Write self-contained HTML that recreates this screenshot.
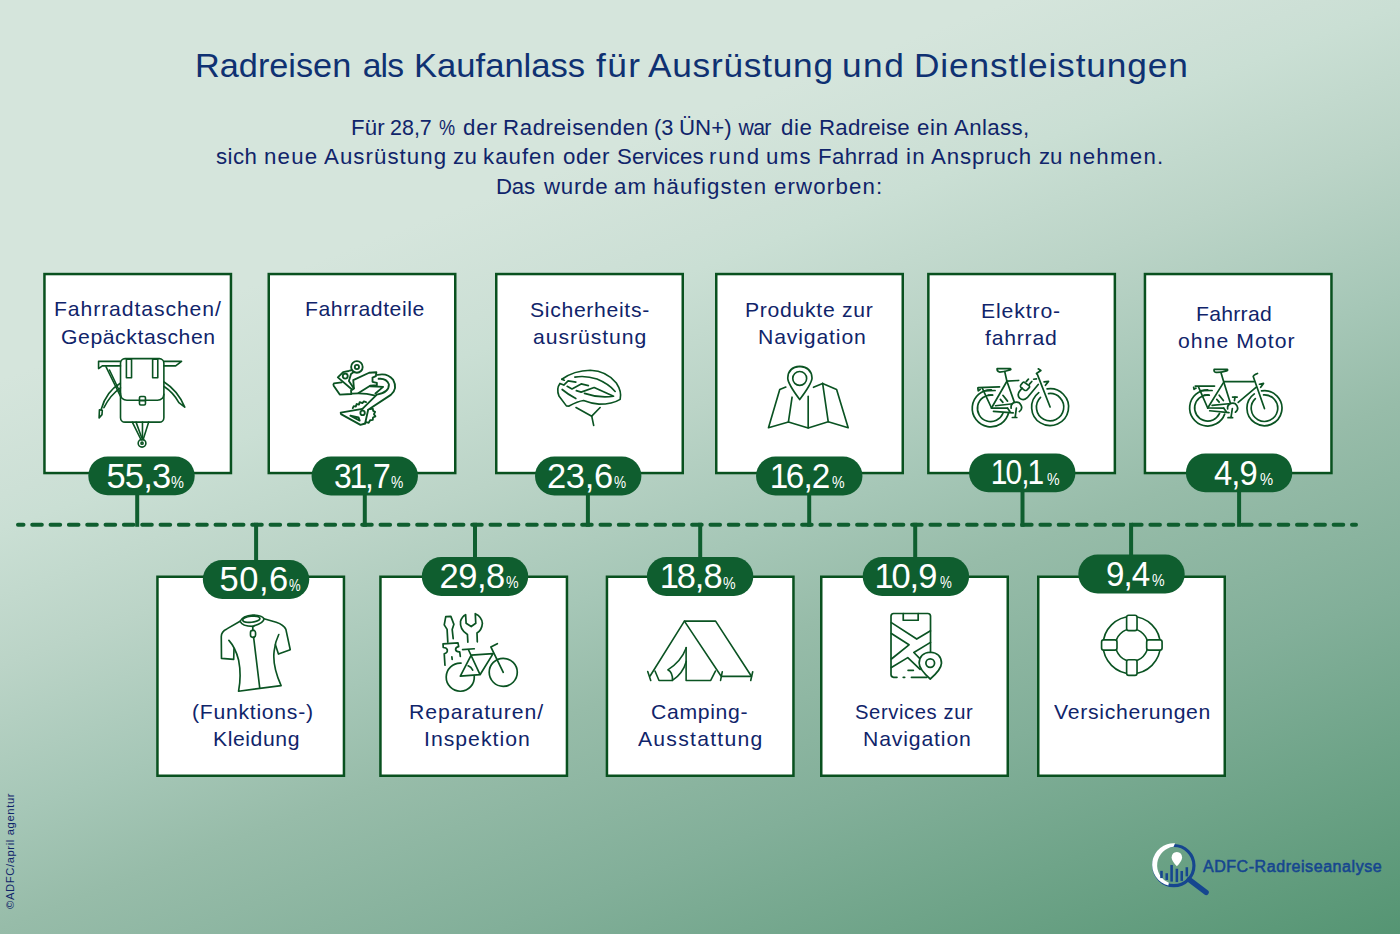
<!DOCTYPE html>
<html lang="de">
<head>
<meta charset="utf-8">
<title>Radreisen als Kaufanlass für Ausrüstung und Dienstleistungen</title>
<style>
html,body{margin:0;padding:0;}
html,body{width:1400px;height:934px;overflow:hidden;background:#d5e5dc;}
#page{position:relative;width:1400px;height:934px;overflow:hidden;font-family:"Liberation Sans",sans-serif;
background:linear-gradient(159.47deg,rgb(213,229,220) 0%,rgb(213,229,220) 26%,rgb(205,224,214) 34%,rgb(202,223,212) 36.3%,rgb(187,212,199) 45.7%,rgb(166,199,183) 56%,rgb(151,188,169) 63.6%,rgb(130,175,153) 76.5%,rgb(85,149,115) 100%);}
.t{position:absolute;white-space:nowrap;line-height:1;transform-origin:left top;}
.box{position:absolute;width:189px;height:201.5px;box-sizing:border-box;border:2.5px solid #09511f;background:#fff;}
.n{font-size:34.5px;color:#fff;}
.one{margin:0 -1.4px;}
.pill{position:absolute;width:106.4px;height:38.9px;border-radius:19.45px;background:#0f5e2f;}
svg{position:absolute;left:0;top:0;}
.vt{position:absolute;white-space:nowrap;line-height:1;transform-origin:left top;transform:rotate(-90deg);color:#10246a;}
</style>
</head>
<body>
<div id="page">
<svg width="1400" height="934" viewBox="0 0 1400 934">
<line x1="18" y1="524.8" x2="1356" y2="524.8" stroke="#0f5e2f" stroke-width="4" stroke-linecap="round" stroke-dasharray="9.6 8.73" stroke-dashoffset="4.1"/>
<line x1="137.2" y1="494.3" x2="137.2" y2="526.8" stroke="#0f5e2f" stroke-width="4"/>
<line x1="364.8" y1="494.4" x2="364.8" y2="526.8" stroke="#0f5e2f" stroke-width="4"/>
<line x1="587.9" y1="494.4" x2="587.9" y2="526.8" stroke="#0f5e2f" stroke-width="4"/>
<line x1="809.2" y1="494.4" x2="809.2" y2="526.8" stroke="#0f5e2f" stroke-width="4"/>
<line x1="1022.5" y1="491.3" x2="1022.5" y2="526.8" stroke="#0f5e2f" stroke-width="4"/>
<line x1="1239.1" y1="491.3" x2="1239.1" y2="526.8" stroke="#0f5e2f" stroke-width="4"/>
<line x1="256.1" y1="522.8" x2="256.1" y2="561.0" stroke="#0f5e2f" stroke-width="4"/>
<line x1="475" y1="522.8" x2="475" y2="558.0" stroke="#0f5e2f" stroke-width="4"/>
<line x1="700.2" y1="522.8" x2="700.2" y2="558.0" stroke="#0f5e2f" stroke-width="4"/>
<line x1="915.2" y1="522.8" x2="915.2" y2="558.0" stroke="#0f5e2f" stroke-width="4"/>
<line x1="1131.1" y1="522.8" x2="1131.1" y2="555.5" stroke="#0f5e2f" stroke-width="4"/>
<rect x="44.45" y="274.05" width="186.50" height="199.00" fill="#fff" stroke="#09511f" stroke-width="2.5"/>
<rect x="268.75" y="274.05" width="186.50" height="199.00" fill="#fff" stroke="#09511f" stroke-width="2.5"/>
<rect x="496.25" y="274.05" width="186.50" height="199.00" fill="#fff" stroke="#09511f" stroke-width="2.5"/>
<rect x="716.25" y="274.05" width="186.50" height="199.00" fill="#fff" stroke="#09511f" stroke-width="2.5"/>
<rect x="928.35" y="274.05" width="186.50" height="199.00" fill="#fff" stroke="#09511f" stroke-width="2.5"/>
<rect x="1144.95" y="274.05" width="186.50" height="199.00" fill="#fff" stroke="#09511f" stroke-width="2.5"/>
<rect x="157.45" y="576.75" width="186.50" height="199.00" fill="#fff" stroke="#09511f" stroke-width="2.5"/>
<rect x="380.45" y="576.75" width="186.50" height="199.00" fill="#fff" stroke="#09511f" stroke-width="2.5"/>
<rect x="606.95" y="576.75" width="186.50" height="199.00" fill="#fff" stroke="#09511f" stroke-width="2.5"/>
<rect x="821.25" y="576.75" width="186.50" height="199.00" fill="#fff" stroke="#09511f" stroke-width="2.5"/>
<rect x="1038.25" y="576.75" width="186.50" height="199.00" fill="#fff" stroke="#09511f" stroke-width="2.5"/>
<rect x="88.30" y="456.4" width="106.4" height="38.9" rx="19.45" fill="#0f5e2f"/>
<rect x="311.55" y="456.5" width="106.4" height="38.9" rx="19.45" fill="#0f5e2f"/>
<rect x="535.00" y="456.5" width="106.4" height="38.9" rx="19.45" fill="#0f5e2f"/>
<rect x="756.05" y="456.5" width="106.4" height="38.9" rx="19.45" fill="#0f5e2f"/>
<rect x="969.05" y="453.4" width="106.4" height="38.9" rx="19.45" fill="#0f5e2f"/>
<rect x="1185.90" y="453.4" width="106.4" height="38.9" rx="19.45" fill="#0f5e2f"/>
<rect x="202.85" y="560" width="106.4" height="38.9" rx="19.45" fill="#0f5e2f"/>
<rect x="421.80" y="557" width="106.4" height="38.9" rx="19.45" fill="#0f5e2f"/>
<rect x="646.90" y="557" width="106.4" height="38.9" rx="19.45" fill="#0f5e2f"/>
<rect x="862.70" y="557" width="106.4" height="38.9" rx="19.45" fill="#0f5e2f"/>
<rect x="1078.30" y="554.5" width="106.4" height="38.9" rx="19.45" fill="#0f5e2f"/>
</svg>
<svg width="1400" height="934" viewBox="0 0 1400 934" fill="none" stroke="#0a5322" stroke-linecap="round" stroke-linejoin="round">
<g transform="translate(90,352) scale(0.10707)" stroke-width="14.94"><rect x="285" y="62" width="405" height="593" rx="42"/>
<path d="M285 395 Q290 450 345 450 H630 Q685 450 690 395"/>
<rect x="340" y="68" width="48" height="172"/>
<rect x="585" y="68" width="48" height="172"/>
<rect x="462" y="415" width="56" height="80" rx="12"/>
<path d="M462 455 H518"/>
<path d="M285 88 H80 V155 L115 130 H285"/>
<path d="M690 88 H855 L800 130 H690"/>
<path d="M150 138 L290 425"/>
<path d="M182 168 L285 385"/>
<path d="M283 292 Q150 370 105 535"/>
<path d="M285 335 Q190 400 130 520"/>
<path d="M88 540 L115 545 L112 585 L85 615 Z"/>
<path d="M692 280 Q820 360 885 515 L830 472 Q780 380 692 322"/>
<path d="M395 655 L478 822"/>
<path d="M430 655 L483 800"/>
<path d="M490 655 V815"/>
<path d="M548 655 L495 822"/>
<circle cx="486" cy="852" r="36"/>
<circle cx="486" cy="852" r="10"/></g>
<g transform="translate(320,352) scale(0.09636)" stroke-width="19.20"><circle cx="383" cy="155" r="60"/>
<circle cx="383" cy="155" r="22"/>
<circle cx="262" cy="250" r="26"/>
<path d="M330 188 L298 197 L240 208 L185 263 L335 392 L352 378 L300 300 L322 228 L350 207"/>
<path d="M225 315 L145 325 Q135 335 142 350 L205 442 L325 436 L322 400"/>
<path d="M352 378 L345 292 L510 215 L585 210 L580 250 L545 265 L545 310 L590 320 L590 345 L520 350 L400 425"/>
<path d="M335 432 Q450 420 575 452"/>
<path d="M520 355 L655 362 L575 430"/>
<path d="M598 238 Q700 215 760 290 Q810 380 735 445 L500 600"/>
<path d="M608 278 Q690 270 715 335 Q720 420 590 442 L440 590"/>
<path d="M440 590 L215 630 L218 645 L420 756 L468 742 L500 600"/>
<path d="M315 660 L400 678 L412 712 Z"/>
<circle cx="442" cy="632" r="23"/>
<path d="M340 582 L350 562 L372 566 L380 540 L405 545 L412 520 L440 530 L455 512 L478 520"/>
<path d="M520 592 L548 588 L552 612 L572 620 L560 645 L575 668 L550 680 L548 705 L520 708 L505 735 L480 728 L468 742"/></g>
<g transform="translate(545,355) scale(0.09636)" stroke-width="17.12"><path d="M175 252 Q300 160 470 158 Q640 165 740 290 Q800 380 780 460 Q700 510 560 510 Q470 500 400 472 Q340 480 250 530 L222 528 L145 425 Q115 350 155 295 L195 312 L240 268 L320 282"/>
<path d="M175 252 L200 262"/>
<path d="M310 230 Q420 210 540 250 Q660 300 728 378"/>
<path d="M230 325 L280 352 L375 300 L450 318"/>
<path d="M325 370 L375 385 L510 338 L712 428 Q560 450 410 398"/>
<path d="M178 358 Q240 410 320 452"/>
<path d="M322 545 L485 635 L572 545"/>
<path d="M485 635 L505 730"/></g>
<g transform="translate(760,355) scale(0.09636)" stroke-width="17.12"><path d="M412 462 Q290 300 288 240 Q292 125 412 118 Q535 125 540 240 Q535 300 412 462 Z"/>
<circle cx="412" cy="243" r="72"/>
<path d="M268 332 L205 358 L88 755 L295 695 L500 758 L708 692 L915 755 L795 358 L650 295 L555 335"/>
<path d="M295 695 L333 438"/>
<path d="M500 758 V430"/>
<path d="M708 692 L650 295"/></g>
<g transform="translate(965,360) scale(0.08029)" stroke-width="21.17"><path d="M328.0 372.1 A230 230 0 1 0 544.1 653.7"/><path d="M340.1 438.2 A165 165 0 1 0 473.0 663.8"/><path d="M1022.4 360.1 A230 230 0 1 1 918.4 405.8"/><path d="M1040.2 418.2 A170 170 0 1 1 940.8 465.7"/>
<path d="M400 108 H565 Q580 115 560 125 Q480 150 430 150 Q395 140 400 108 Z"/>
<path d="M495 145 L522 265 L330 598"/>
<path d="M522 265 L620 540"/>
<path d="M522 262 L668 255"/>
<path d="M165 345 L430 335"/>
<path d="M215 350 L330 598"/>
<path d="M160 350 L165 385 L190 365"/>
<path d="M240 385 L375 380"/>
<path d="M290 436 L345 436"/>
<path d="M380 570 L600 545"/>
<path d="M332 600 L530 600"/>
<path d="M355 640 L600 658"/>
<path d="M530 600 L560 640"/>
<circle cx="640" cy="590" r="62" fill="#fff" stroke="none"/><path d="M575 601 A65 65 0 1 1 677 643"/>
<path d="M640 598 L625 712"/>
<path d="M590 716 L645 716"/>
<path d="M472 440 L530 512"/>
<path d="M440 490 L472 528"/>
<path d="M912 305 L775 470 Q725 515 680 475 Q640 430 690 375 L712 350"/>
<path d="M735 275 L800 320 Q810 335 800 345 L770 375 Q755 385 740 375 L695 340 Q685 325 695 312 L720 280 Q728 272 735 275 Z"/>
<path d="M762 270 L790 238"/>
<path d="M803 300 L832 267"/>
<path d="M912 110 L945 130 L890 168 L905 188 L1060 585"/>
<path d="M855 240 L890 236"/>
<path d="M985 272 L1040 266 L1002 315"/></g>
<g transform="translate(1180,360) scale(0.08029)" stroke-width="21.17"><path d="M345.0 372.0 A225 225 0 1 0 556.4 674.0"/><path d="M350.7 434.1 A163 163 0 1 0 492.7 665.9"/><path d="M1015.6 385.1 A218 218 0 1 1 925.4 422.5"/><path d="M1040.5 435.4 A165 165 0 1 1 938.4 480.3"/>
<path d="M425 118 H590 Q600 128 580 135 Q500 158 450 155 Q418 148 425 118 Z"/>
<path d="M510 155 L545 275 L345 598"/>
<path d="M545 275 L630 545"/>
<path d="M548 270 L920 270" stroke-width="22"/>
<path d="M190 325 L430 325"/>
<path d="M230 335 L345 598"/>
<path d="M170 340 L175 365 L200 350"/>
<path d="M265 382 L400 380"/>
<path d="M305 438 L365 438"/>
<path d="M400 565 L605 545"/>
<path d="M348 598 L545 600"/>
<path d="M370 632 L610 655"/>
<path d="M545 600 L575 640"/>
<circle cx="655" cy="600" r="59" fill="#fff" stroke="none"/><path d="M593 608 A62 62 0 1 1 690 650"/>
<path d="M652 605 L635 715"/>
<path d="M598 718 L655 718"/>
<path d="M488 438 L540 505"/>
<path d="M458 490 L488 525"/>
<path d="M725 528 L950 338"/>
<path d="M655 462 H712"/>
<path d="M685 462 L678 505"/>
<path d="M965 168 Q915 185 912 205 L1052 605"/>
<path d="M990 302 L1040 292 L1005 340"/></g>
<g transform="translate(205,605) scale(0.10173)" stroke-width="16.22"><path d="M345 160 L215 235 Q160 260 160 310 L162 525 L282 535 L285 430"/>
<path d="M235 348 Q300 420 330 540 Q360 690 330 848 L748 792 Q660 600 680 450 Q690 360 725 290"/>
<path d="M580 135 L700 170 Q775 195 795 240 L838 440 L722 482 L692 390"/>
<path d="M345 160 Q370 105 470 98 Q560 100 580 135 Q580 175 470 210 Q365 210 345 160 Z"/>
<ellipse cx="455" cy="140" rx="85" ry="30" transform="rotate(-6 455 140)"/>
<path d="M470 210 V250"/>
<rect x="447" y="250" width="50" height="68" rx="22"/>
<path d="M478 318 L538 815"/></g>
<g transform="translate(430,605) scale(0.10173)" stroke-width="16.71"><path d="M175 365 L168 240 L140 195 L155 115 L205 112 L235 190 L218 240 L228 330"/>
<path d="M147 592 L140 480 Q175 470 170 440 Q165 420 130 418 L128 382 L275 372 L282 410 Q250 415 252 440 Q258 462 292 460 L298 505"/>
<path d="M215 510 L218 535"/>
<path d="M372 365 L368 290 Q290 240 300 160 Q315 110 350 95 L355 180 L405 212 L450 180 L445 85 Q510 115 515 180 Q510 245 462 275 L465 362"/>
<path d="M305 572 A138 138 0 1 0 435 700"/>
<circle cx="720" cy="662" r="138"/>
<path d="M320 438 L435 430"/>
<path d="M378 440 L492 685 L298 700 L405 492 L620 478 L492 685"/>
<path d="M375 598 Q405 610 420 640"/>
<path d="M662 380 L598 412 L720 662"/></g>
<g transform="translate(640,610) scale(0.08571)" stroke-width="18.67"><path d="M118 770 L518 130 H882 L1298 770"/>
<path d="M518 130 L945 770"/>
<path d="M175 712 L222 822 H378"/>
<path d="M538 438 V822 H825 L880 712"/>
<path d="M540 440 Q480 600 325 698 Q385 730 378 822 Q500 740 540 600"/>
<path d="M90 718 L125 822"/>
<path d="M960 720 L940 822"/>
<path d="M1315 720 L1292 822"/>
<path d="M955 775 H1298" stroke-width="22"/></g>
<g transform="translate(870,600) scale(0.09636)" stroke-width="17.64"><path d="M628 540 V165 Q625 140 600 140 H245 Q218 142 218 168 V775 Q220 800 245 802 H280"/>
<path d="M345 802 H360"/>
<path d="M430 802 H590"/>
<path d="M345 140 V210 H500 V140"/>
<path d="M222 235 L485 405 L628 320"/>
<path d="M222 348 L405 465 L222 612"/>
<path d="M628 440 L455 545 L520 610"/>
<path d="M222 700 L392 598 L520 720"/>
<path d="M395 730 H450"/>
<path d="M625 820 Q510 720 510 655 Q515 548 625 542 Q738 548 742 655 Q740 720 625 820 Z" fill="#fff"/>
<circle cx="625" cy="655" r="45" stroke-width="18"/></g>
<g transform="translate(1085,600) scale(0.09636)" stroke-width="17.12"><circle cx="485" cy="468" r="297"/>
<circle cx="485" cy="468" r="167"/>
<rect x="432" y="158" width="108" height="160" rx="22" fill="#fff"/>
<rect x="432" y="620" width="108" height="162" rx="22" fill="#fff"/>
<rect x="172" y="414" width="160" height="106" rx="22" fill="#fff"/>
<rect x="640" y="414" width="160" height="106" rx="22" fill="#fff"/></g>
</svg>
<div class="t" style="left:195.46px;top:48.75px;font-size:33.6px;color:#0f3172;transform:scaleX(1.0209);">Radreisen</div>
<div class="t" style="left:362.75px;top:48.75px;font-size:33.6px;color:#0f3172;letter-spacing:-0.817px;">als</div>
<div class="t" style="left:414.19px;top:48.75px;font-size:33.6px;color:#0f3172;transform:scaleX(1.0300);">Kaufanlass</div>
<div class="t" style="left:596.25px;top:48.75px;font-size:33.6px;color:#0f3172;letter-spacing:1.332px;transform:scaleX(1.0500);">für</div>
<div class="t" style="left:648.00px;top:48.75px;font-size:33.6px;color:#0f3172;letter-spacing:0.704px;transform:scaleX(1.0500);">Ausrüstung</div>
<div class="t" style="left:842.40px;top:48.75px;font-size:33.6px;color:#0f3172;letter-spacing:1.444px;transform:scaleX(1.0500);">und</div>
<div class="t" style="left:914.15px;top:48.75px;font-size:33.6px;color:#0f3172;letter-spacing:0.837px;transform:scaleX(1.0500);">Dienstleistungen</div>
<div class="t" style="left:350.95px;top:117.00px;font-size:21.2px;color:#10246a;letter-spacing:0.113px;transform:scaleX(1.0500);">Für</div>
<div class="t" style="left:390.24px;top:117.00px;font-size:21.2px;color:#10246a;transform:scaleX(1.0139);">28,7</div>
<div class="t" style="left:438.75px;top:117.00px;font-size:21.2px;color:#10246a;transform:scaleX(0.8553);">%</div>
<div class="t" style="left:462.50px;top:117.00px;font-size:21.2px;color:#10246a;letter-spacing:0.788px;transform:scaleX(1.0500);">der</div>
<div class="t" style="left:502.70px;top:117.00px;font-size:21.2px;color:#10246a;letter-spacing:0.572px;transform:scaleX(1.0500);">Radreisenden</div>
<div class="t" style="left:653.97px;top:117.00px;font-size:21.2px;color:#10246a;transform:scaleX(1.0261);">(3</div>
<div class="t" style="left:678.95px;top:117.00px;font-size:21.2px;color:#10246a;letter-spacing:0.040px;transform:scaleX(1.0500);">ÜN+)</div>
<div class="t" style="left:738.50px;top:117.00px;font-size:21.2px;color:#10246a;letter-spacing:-0.667px;">war</div>
<div class="t" style="left:781.25px;top:117.00px;font-size:21.2px;color:#10246a;letter-spacing:0.540px;transform:scaleX(1.0500);">die</div>
<div class="t" style="left:818.95px;top:117.00px;font-size:21.2px;color:#10246a;letter-spacing:0.217px;transform:scaleX(1.0500);">Radreise</div>
<div class="t" style="left:917.00px;top:117.00px;font-size:21.2px;color:#10246a;letter-spacing:0.540px;transform:scaleX(1.0500);">ein</div>
<div class="t" style="left:954.25px;top:117.00px;font-size:21.2px;color:#10246a;letter-spacing:0.361px;transform:scaleX(1.0500);">Anlass,</div>
<div class="t" style="left:216.25px;top:146.25px;font-size:21.2px;color:#10246a;letter-spacing:0.400px;transform:scaleX(1.0500);">sich</div>
<div class="t" style="left:263.95px;top:146.25px;font-size:21.2px;color:#10246a;letter-spacing:1.153px;transform:scaleX(1.0500);">neue</div>
<div class="t" style="left:323.75px;top:146.25px;font-size:21.2px;color:#10246a;letter-spacing:1.009px;transform:scaleX(1.0500);">Ausrüstung</div>
<div class="t" style="left:452.50px;top:146.25px;font-size:21.2px;color:#10246a;letter-spacing:0.311px;transform:scaleX(1.0500);">zu</div>
<div class="t" style="left:482.70px;top:146.25px;font-size:21.2px;color:#10246a;letter-spacing:0.967px;transform:scaleX(1.0500);">kaufen</div>
<div class="t" style="left:562.50px;top:146.25px;font-size:21.2px;color:#10246a;letter-spacing:0.566px;transform:scaleX(1.0500);">oder</div>
<div class="t" style="left:617.00px;top:146.25px;font-size:21.2px;color:#10246a;letter-spacing:0.179px;transform:scaleX(1.0500);">Services</div>
<div class="t" style="left:709.45px;top:146.25px;font-size:21.2px;color:#10246a;letter-spacing:1.777px;transform:scaleX(1.0500);">rund</div>
<div class="t" style="left:765.95px;top:146.25px;font-size:21.2px;color:#10246a;letter-spacing:1.260px;transform:scaleX(1.0500);">ums</div>
<div class="t" style="left:818.45px;top:146.25px;font-size:21.2px;color:#10246a;letter-spacing:0.393px;transform:scaleX(1.0500);">Fahrrad</div>
<div class="t" style="left:905.95px;top:146.25px;font-size:21.2px;color:#10246a;letter-spacing:1.245px;transform:scaleX(1.0500);">in</div>
<div class="t" style="left:931.25px;top:146.25px;font-size:21.2px;color:#10246a;letter-spacing:0.828px;transform:scaleX(1.0500);">Anspruch</div>
<div class="t" style="left:1038.75px;top:146.25px;font-size:21.2px;color:#10246a;letter-spacing:-0.165px;transform:scaleX(1.0500);">zu</div>
<div class="t" style="left:1068.95px;top:146.25px;font-size:21.2px;color:#10246a;letter-spacing:1.223px;transform:scaleX(1.0500);">nehmen.</div>
<div class="t" style="left:495.95px;top:175.50px;font-size:21.2px;color:#10246a;letter-spacing:-0.185px;transform:scaleX(1.0500);">Das</div>
<div class="t" style="left:543.55px;top:175.50px;font-size:21.2px;color:#10246a;letter-spacing:0.698px;transform:scaleX(1.0500);">wurde</div>
<div class="t" style="left:613.75px;top:175.50px;font-size:21.2px;color:#10246a;letter-spacing:0.978px;transform:scaleX(1.0500);">am</div>
<div class="t" style="left:652.70px;top:175.50px;font-size:21.2px;color:#10246a;letter-spacing:1.107px;transform:scaleX(1.0500);">häufigsten</div>
<div class="t" style="left:773.75px;top:175.50px;font-size:21.2px;color:#10246a;letter-spacing:1.108px;transform:scaleX(1.0500);">erworben:</div>
<div class="t" style="left:54.33px;top:300.40px;font-size:19.8px;color:#10246a;letter-spacing:0.848px;transform:scaleX(1.0700);">Fahrradtaschen/</div>
<div class="t" style="left:61.03px;top:327.80px;font-size:19.8px;color:#10246a;letter-spacing:0.542px;transform:scaleX(1.0700);">Gepäcktaschen</div>
<div class="t" style="left:304.63px;top:300.40px;font-size:19.8px;color:#10246a;letter-spacing:0.538px;transform:scaleX(1.0700);">Fahrradteile</div>
<div class="t" style="left:529.70px;top:300.60px;font-size:19.8px;color:#10246a;letter-spacing:0.635px;transform:scaleX(1.0700);">Sicherheits-</div>
<div class="t" style="left:532.90px;top:328.00px;font-size:19.8px;color:#10246a;letter-spacing:0.877px;transform:scaleX(1.0700);">ausrüstung</div>
<div class="t" style="left:745.33px;top:300.60px;font-size:19.8px;color:#10246a;letter-spacing:0.665px;transform:scaleX(1.0700);">Produkte zur</div>
<div class="t" style="left:758.23px;top:328.00px;font-size:19.8px;color:#10246a;letter-spacing:0.813px;transform:scaleX(1.0700);">Navigation</div>
<div class="t" style="left:980.83px;top:301.90px;font-size:19.8px;color:#10246a;letter-spacing:0.824px;transform:scaleX(1.0700);">Elektro-</div>
<div class="t" style="left:985.00px;top:329.30px;font-size:19.8px;color:#10246a;letter-spacing:0.733px;transform:scaleX(1.0700);">fahrrad</div>
<div class="t" style="left:1195.63px;top:304.70px;font-size:19.8px;color:#10246a;letter-spacing:0.254px;transform:scaleX(1.0700);">Fahrrad</div>
<div class="t" style="left:1177.90px;top:332.30px;font-size:19.8px;color:#10246a;letter-spacing:0.996px;transform:scaleX(1.0700);">ohne Motor</div>
<div class="t" style="left:192.23px;top:702.60px;font-size:19.8px;color:#10246a;letter-spacing:0.687px;transform:scaleX(1.0700);">(Funktions-)</div>
<div class="t" style="left:212.53px;top:729.70px;font-size:19.8px;color:#10246a;letter-spacing:0.542px;transform:scaleX(1.0700);">Kleidung</div>
<div class="t" style="left:409.33px;top:702.60px;font-size:19.8px;color:#10246a;letter-spacing:0.891px;transform:scaleX(1.0700);">Reparaturen/</div>
<div class="t" style="left:423.93px;top:729.70px;font-size:19.8px;color:#10246a;letter-spacing:0.961px;transform:scaleX(1.0700);">Inspektion</div>
<div class="t" style="left:651.03px;top:702.60px;font-size:19.8px;color:#10246a;letter-spacing:0.633px;transform:scaleX(1.0700);">Camping-</div>
<div class="t" style="left:638.30px;top:729.70px;font-size:19.8px;color:#10246a;letter-spacing:1.158px;transform:scaleX(1.0700);">Ausstattung</div>
<div class="t" style="left:854.70px;top:702.60px;font-size:19.8px;color:#10246a;letter-spacing:0.604px;transform:scaleX(1.0200);">Services zur</div>
<div class="t" style="left:862.53px;top:729.70px;font-size:19.8px;color:#10246a;letter-spacing:0.813px;transform:scaleX(1.0700);">Navigation</div>
<div class="t" style="left:1054.00px;top:702.60px;font-size:19.8px;color:#10246a;letter-spacing:0.668px;transform:scaleX(1.0700);">Versicherungen</div>
<div class="t" style="left:1202.90px;top:859.10px;font-size:16.0px;color:#16468f;letter-spacing:0.565px;-webkit-text-stroke:0.55px #16468f;">ADFC-Radreiseanalyse</div>
<div class="t n" style="left:106.40px;top:459.10px;letter-spacing:-0.787px;transform:scaleX(1.0000);">55,3</div>
<div class="t n" style="left:333.88px;top:458.50px;letter-spacing:-1.000px;transform:scaleX(0.9246);">3<span class="one">1</span>,7</div>
<div class="t n" style="left:547.00px;top:458.50px;letter-spacing:-0.320px;transform:scaleX(1.0000);">23,6</div>
<div class="t n" style="left:770.92px;top:458.50px;letter-spacing:-1.000px;transform:scaleX(0.9654);"><span class="one">1</span>6,2</div>
<div class="t n" style="left:992.48px;top:455.20px;letter-spacing:-1.000px;transform:scaleX(0.8683);"><span class="one">1</span>0,<span class="one">1</span></div>
<div class="t n" style="left:1213.50px;top:455.50px;letter-spacing:-1.000px;transform:scaleX(0.9492);">4,9</div>
<div class="t n" style="left:219.50px;top:562.00px;letter-spacing:0.513px;transform:scaleX(1.0000);">50,6</div>
<div class="t n" style="left:439.50px;top:559.00px;letter-spacing:-0.487px;transform:scaleX(1.0000);">29,8</div>
<div class="t n" style="left:661.20px;top:559.30px;letter-spacing:-0.953px;transform:scaleX(1.0000);"><span class="one">1</span>8,8</div>
<div class="t n" style="left:876.40px;top:559.00px;letter-spacing:-1.000px;transform:scaleX(0.9990);"><span class="one">1</span>0,9</div>
<div class="t n" style="left:1106.04px;top:556.80px;letter-spacing:-1.000px;transform:scaleX(0.9604);">9,4</div>
<div class="t" style="left:171.30px;top:474.40px;font-size:17px;color:#fff;transform:scaleX(0.8533);">%</div>
<div class="t" style="left:390.80px;top:473.80px;font-size:17px;color:#fff;transform:scaleX(0.8133);">%</div>
<div class="t" style="left:613.50px;top:473.80px;font-size:17px;color:#fff;transform:scaleX(0.8000);">%</div>
<div class="t" style="left:832.00px;top:473.80px;font-size:17px;color:#fff;transform:scaleX(0.8333);">%</div>
<div class="t" style="left:1046.50px;top:470.50px;font-size:17px;color:#fff;transform:scaleX(0.8333);">%</div>
<div class="t" style="left:1259.50px;top:470.80px;font-size:17px;color:#fff;transform:scaleX(0.8667);">%</div>
<div class="t" style="left:288.50px;top:577.30px;font-size:17px;color:#fff;transform:scaleX(0.7667);">%</div>
<div class="t" style="left:506.00px;top:574.30px;font-size:17px;color:#fff;transform:scaleX(0.8333);">%</div>
<div class="t" style="left:723.00px;top:574.60px;font-size:17px;color:#fff;transform:scaleX(0.8333);">%</div>
<div class="t" style="left:939.50px;top:574.30px;font-size:17px;color:#fff;transform:scaleX(0.7800);">%</div>
<div class="t" style="left:1151.50px;top:572.10px;font-size:17px;color:#fff;transform:scaleX(0.8333);">%</div>
<svg width="1400" height="934" viewBox="0 0 1400 934">
<g transform="translate(1145,835) scale(0.07496)">
<circle cx="385" cy="408" r="268" fill="none" stroke="#16468f" stroke-width="42"/>
<path d="M590 595 L815 765" stroke="#16468f" stroke-width="72" stroke-linecap="round"/>
<path d="M401.0 111.7 A286 286 0 0 0 311.8 674.5 L318.3 635.8 A250 250 0 0 1 381.5 155.9 Z" fill="#fff"/>
<rect x="203" y="478" width="34" height="97" fill="#16468f"/><rect x="273" y="510" width="34" height="90" fill="#16468f"/><rect x="338" y="400" width="34" height="222" fill="#16468f"/><rect x="408" y="450" width="34" height="178" fill="#16468f"/><rect x="473" y="480" width="34" height="132" fill="#16468f"/><rect x="541" y="430" width="34" height="122" fill="#16468f"/>
<path d="M425 418 Q355 345 355 300 Q358 232 425 228 Q492 232 495 300 Q495 345 425 418 Z" fill="#fff"/>
</g>
</svg>
<div class="vt" style="left:5.20px;top:909.30px;font-size:11.2px;letter-spacing:0.640px">©ADFC/april agentur</div>
</div>
</body>
</html>
